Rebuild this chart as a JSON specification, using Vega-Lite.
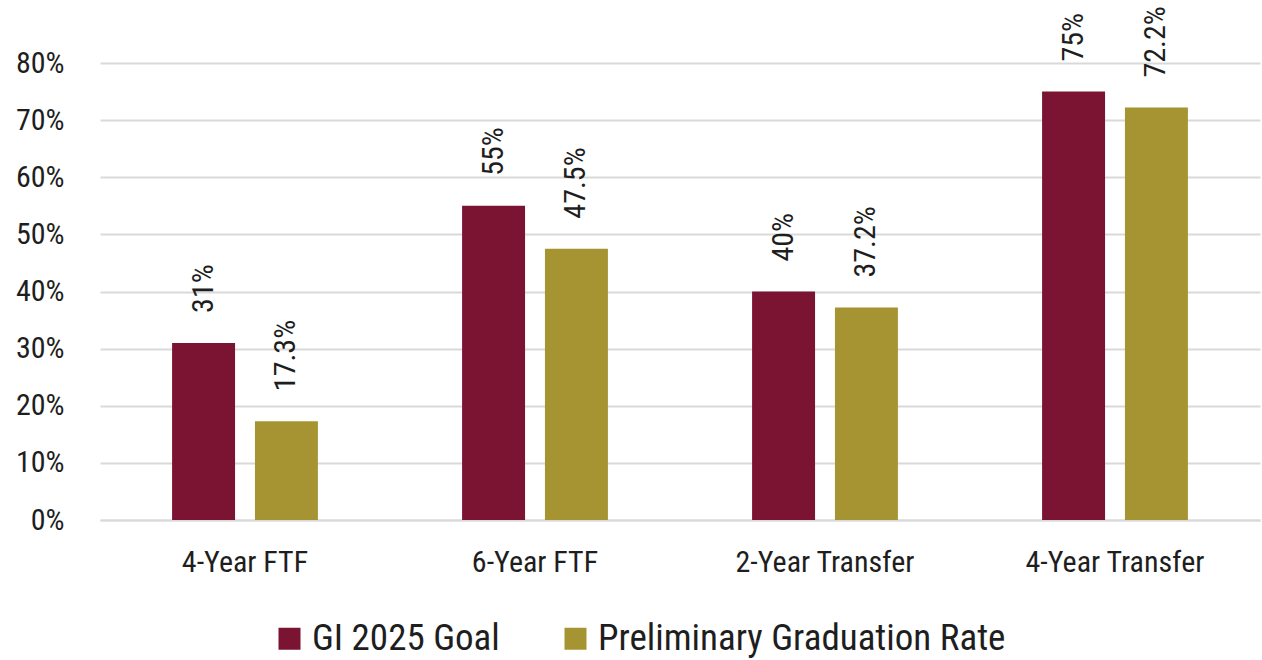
{
  "$schema": "https://vega.github.io/schema/vega-lite/v6.json",
  "autosize": "none",
  "width": 1160,
  "height": 457,
  "padding": {"left": 100, "top": 63, "right": 2, "bottom": 140},
  "background": "white",
  "config": {
    "font": "Roboto Condensed, DejaVu Sans Condensed, Roboto, sans-serif",
    "view": {"stroke": null}
  },
  "data": {
    "values": [
      {"category": "4-Year FTF", "series": "GI 2025 Goal", "value": 31, "label": "31%"},
      {"category": "4-Year FTF", "series": "Preliminary Graduation Rate", "value": 17.3, "label": "17.3%"},
      {"category": "6-Year FTF", "series": "GI 2025 Goal", "value": 55, "label": "55%"},
      {"category": "6-Year FTF", "series": "Preliminary Graduation Rate", "value": 47.5, "label": "47.5%"},
      {"category": "2-Year Transfer", "series": "GI 2025 Goal", "value": 40, "label": "40%"},
      {"category": "2-Year Transfer", "series": "Preliminary Graduation Rate", "value": 37.2, "label": "37.2%"},
      {"category": "4-Year Transfer", "series": "GI 2025 Goal", "value": 75, "label": "75%"},
      {"category": "4-Year Transfer", "series": "Preliminary Graduation Rate", "value": 72.2, "label": "72.2%"}
    ]
  },
  "encoding": {
    "x": {
      "field": "category",
      "type": "nominal",
      "sort": null,
      "scale": {"paddingInner": 0, "paddingOuter": 0},
      "axis": {
        "title": null,
        "labelAngle": 0,
        "labelFontSize": 30,
        "labelColor": "#1e1e1e",
        "labelPadding": 27,
        "labelLimit": 300,
        "ticks": false,
        "domainColor": "#d9d9d9",
        "domainWidth": 2
      }
    },
    "xOffset": {
      "field": "series",
      "type": "nominal",
      "sort": null,
      "scale": {"paddingInner": 0.24, "paddingOuter": 0.87}
    },
    "y": {
      "field": "value",
      "type": "quantitative",
      "scale": {"domain": [0, 80], "nice": false},
      "axis": {
        "title": null,
        "values": [0, 10, 20, 30, 40, 50, 60, 70, 80],
        "labelExpr": "datum.value + '%'",
        "labelFontSize": 30,
        "labelColor": "#1e1e1e",
        "labelPadding": 36,
        "ticks": false,
        "domain": false,
        "gridColor": "#d9d9d9",
        "gridWidth": 2
      }
    }
  },
  "layer": [
    {
      "mark": {"type": "bar"},
      "encoding": {
        "color": {
          "field": "series",
          "type": "nominal",
          "sort": null,
          "scale": {"domain": ["GI 2025 Goal", "Preliminary Graduation Rate"], "range": ["#7b1432", "#a69433"]},
          "legend": {
            "title": null,
            "orient": "none",
            "direction": "horizontal",
            "legendX": 171,
            "legendY": 557,
            "padding": 0,
            "symbolType": "square",
            "symbolSize": 484,
            "symbolStrokeWidth": 0,
            "symbolOpacity": 1,
            "labelFontSize": 37,
            "labelColor": "#1e1e1e",
            "labelOffset": 4,
            "columnPadding": 57,
            "labelLimit": 700
          }
        }
      }
    },
    {
      "mark": {
        "type": "text",
        "angle": -90,
        "align": "left",
        "baseline": "middle",
        "dx": 30,
        "fontSize": 30,
        "color": "#1e1e1e"
      },
      "encoding": {
        "text": {"field": "label"}
      }
    }
  ]
}
